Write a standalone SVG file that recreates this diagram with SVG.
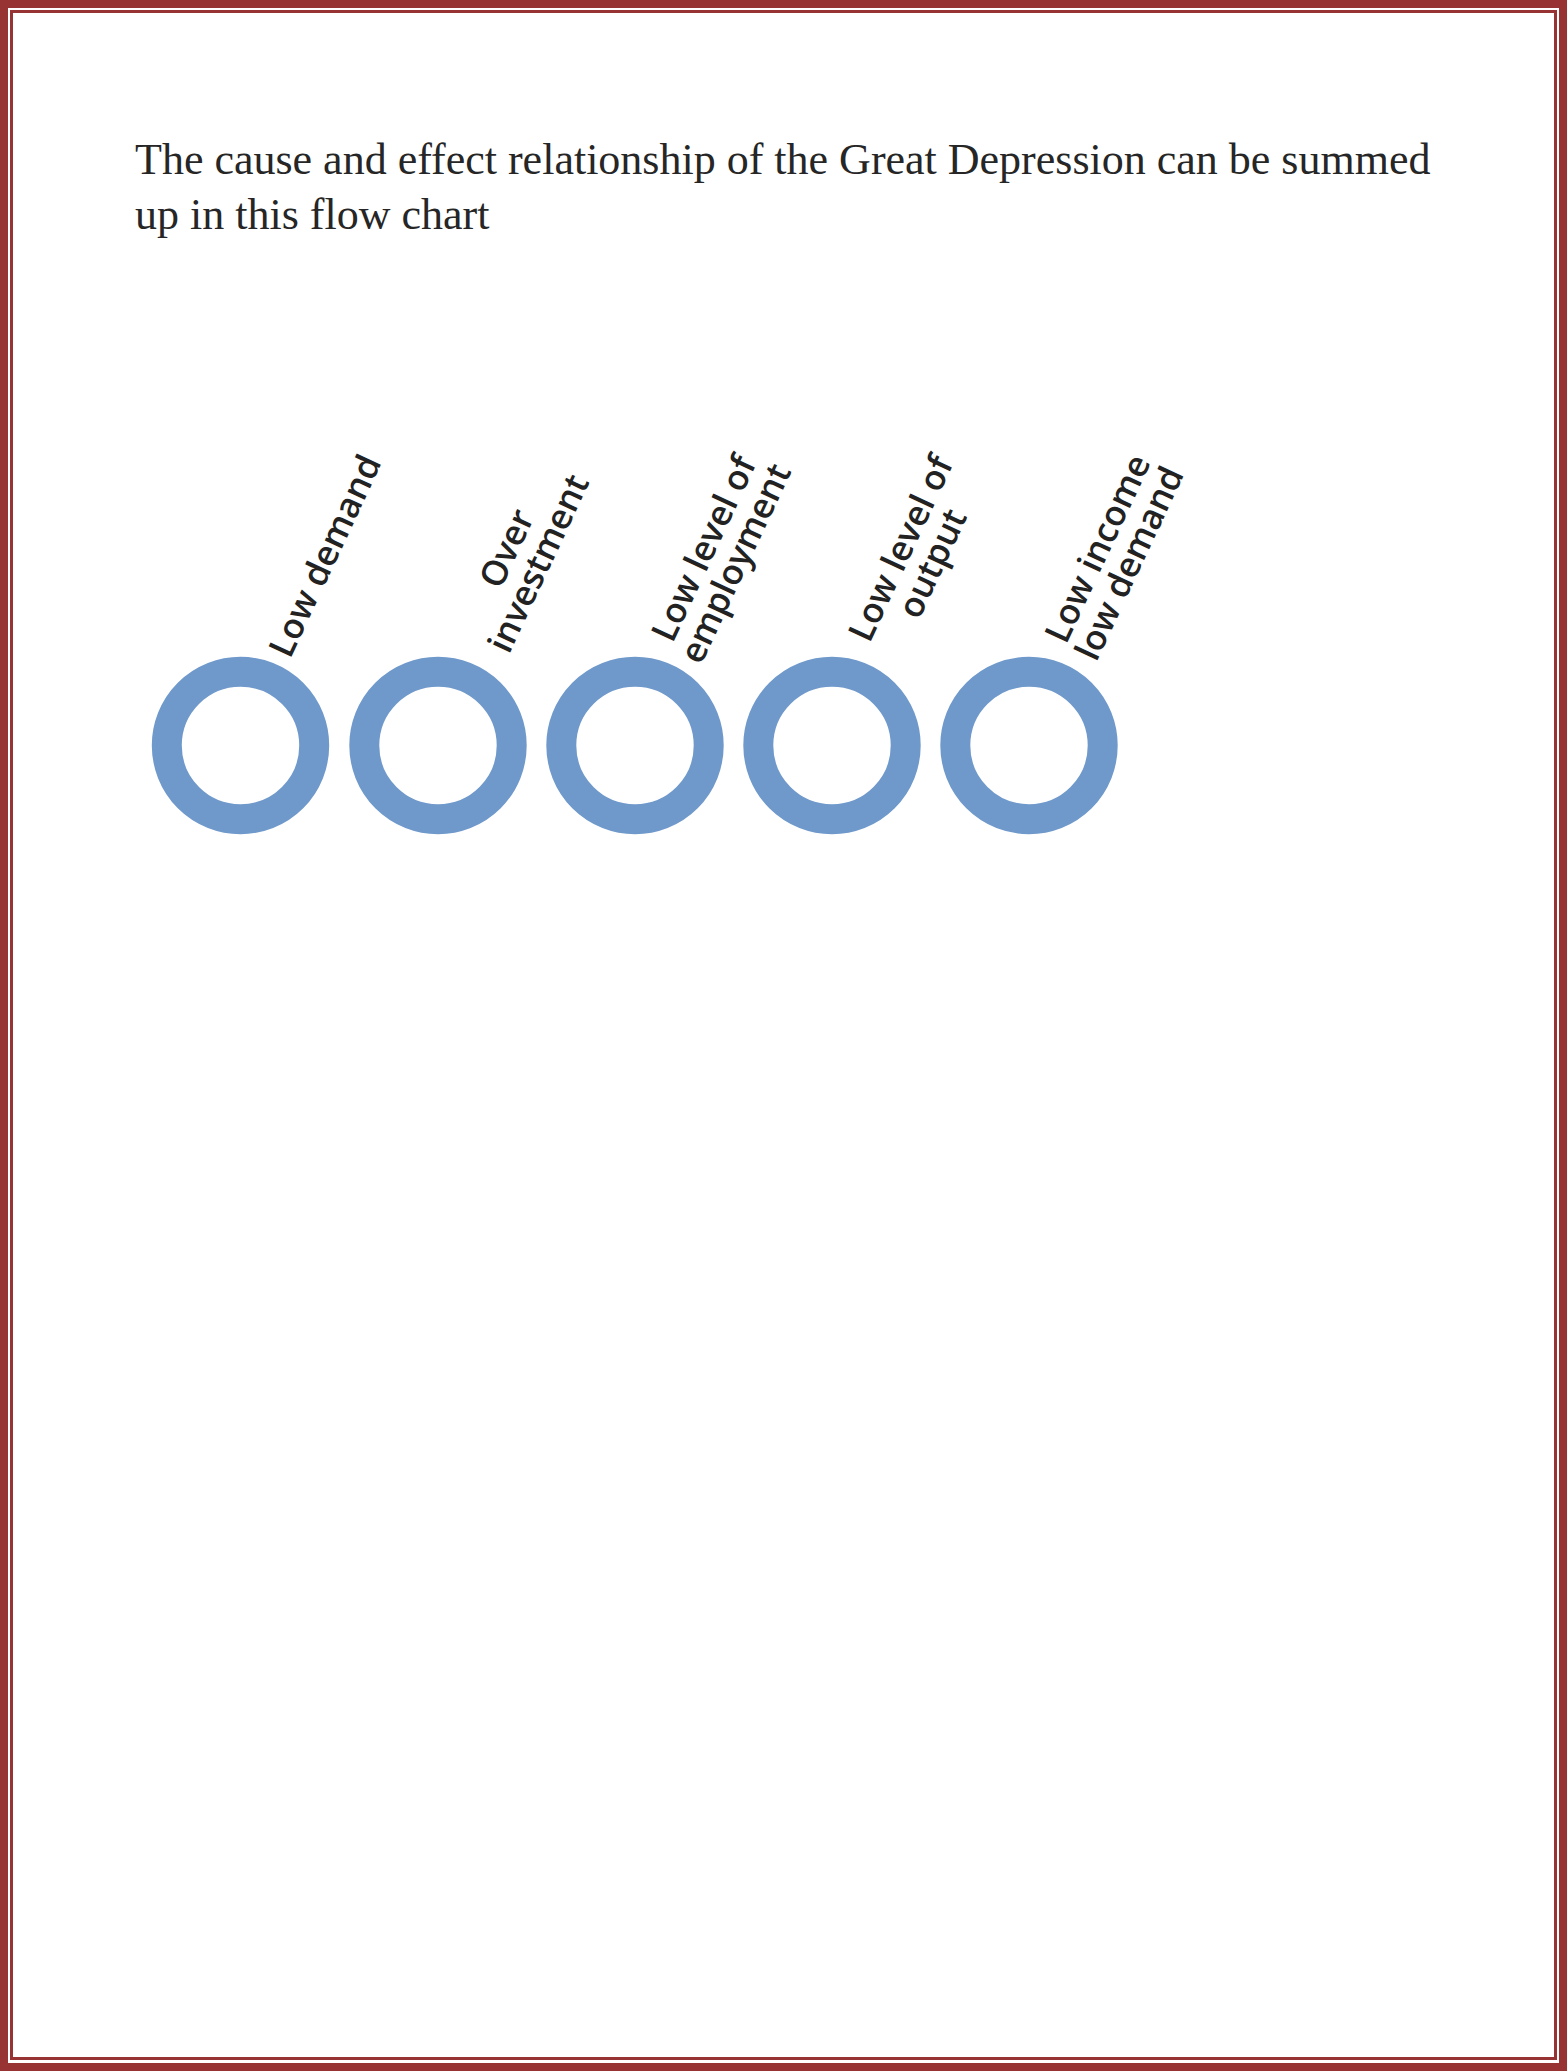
<svg xmlns="http://www.w3.org/2000/svg" width="1567" height="2071" viewBox="0 0 1567 2071">
<style>
.frame{fill:none;stroke:#983333}
.title{font-family:"Liberation Serif","Times New Roman",serif;font-size:44px;fill:#262626}
.ring{fill:none;stroke:#6f99cb;stroke-width:30}
.lbl{font-family:"Open Sans","DejaVu Sans",sans-serif;font-size:35px;font-weight:600;fill:#222222;text-anchor:middle}
</style>
<rect width="1567" height="2071" fill="#ffffff"/>
<rect class="frame" x="4" y="4" width="1559" height="2063" stroke-width="8"/>
<rect class="frame" x="11.5" y="11.5" width="1544" height="2047" stroke-width="3"/>
<g id="title">
<text class="title" x="135" y="174">The cause and effect relationship of the Great Depression can be summed</text>
<text class="title" x="135" y="229">up in this flow chart</text>
</g>
<g id="connectors"/>
<g id="node1">
<circle class="ring" cx="240.5" cy="745.5" r="73.7"/>
<g transform="translate(336,561) rotate(-65)"><text class="lbl" x="0" y="0">Low demand</text></g>
</g>
<g id="node2">
<circle class="ring" cx="438" cy="745.5" r="73.7"/>
<g transform="translate(533.5,561) rotate(-65)"><text class="lbl" x="0" y="-17.5">Over</text><text class="lbl" x="0" y="17.5">investment</text></g>
</g>
<g id="node3">
<circle class="ring" cx="635" cy="745.5" r="73.7"/>
<g transform="translate(730.5,561) rotate(-65)"><text class="lbl" x="0" y="-17.5">Low level of</text><text class="lbl" x="0" y="17.5">employment</text></g>
</g>
<g id="node4">
<circle class="ring" cx="832" cy="745.5" r="73.7"/>
<g transform="translate(927.5,561) rotate(-65)"><text class="lbl" x="0" y="-17.5">Low level of</text><text class="lbl" x="0" y="17.5">output</text></g>
</g>
<g id="node5">
<circle class="ring" cx="1029" cy="745.5" r="73.7"/>
<g transform="translate(1124.5,561) rotate(-65)"><text class="lbl" x="0" y="-17.5">Low income</text><text class="lbl" x="0" y="17.5">low demand</text></g>
</g>
</svg>
